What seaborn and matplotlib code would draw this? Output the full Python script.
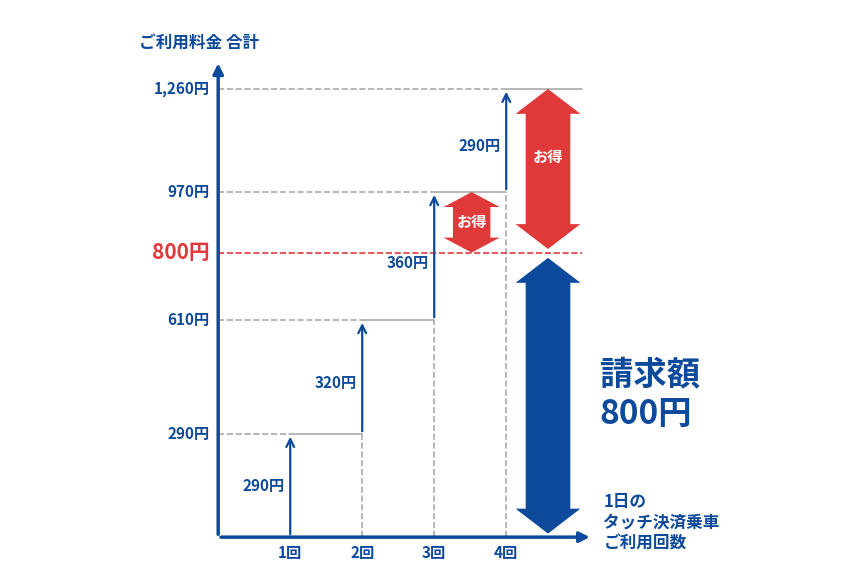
import matplotlib
matplotlib.use("Agg")
import matplotlib.pyplot as plt
import seaborn as sns
from matplotlib.patches import Polygon

sns.set_theme(style="white")
plt.rcParams['font.family'] = ['Noto Sans CJK JP', 'DejaVu Sans']

# data
rides = [1, 2, 3, 4]
ride_labels = ["1回", "2回", "3回", "4回"]
fares = [290, 320, 360, 290]
totals = [290, 610, 970, 1260]
cap = 800
tick_labels = ["290円", "610円", "970円", "1,260円"]

BLUE = "#0d4a9b"
RED = "#e0393a"
GRAY = "#aaaaaa"

fig = plt.figure(figsize=(8.67, 5.72), dpi=100)
ax = fig.add_axes([0, 0, 1, 1])
ax.set_xlim(-3.03, 9.01)
ax.set_ylim(-98, 1510)
ax.axis("off")

def double_arrow(x, y0, y1, w, hw, hl, color):
    pts = [(x - w/2, y0 + hl), (x - hw/2, y0 + hl), (x, y0), (x + hw/2, y0 + hl),
           (x + w/2, y0 + hl), (x + w/2, y1 - hl), (x + hw/2, y1 - hl), (x, y1),
           (x - hw/2, y1 - hl), (x - w/2, y1 - hl)]
    ax.add_patch(Polygon(pts, closed=True, color=color, lw=0))

# axes arrows
ax.annotate("", xy=(0, 1340), xytext=(0, 0),
            arrowprops=dict(arrowstyle="-|>", color=BLUE, lw=2.5, mutation_scale=15))
ax.annotate("", xy=(5.2, 0), xytext=(0, 0),
            arrowprops=dict(arrowstyle="-|>", color=BLUE, lw=2.5, mutation_scale=15))

prev = 0
for i, (x, t, f) in enumerate(zip(rides, totals, fares)):
    ax.plot([0, x], [t, t], ls="--", color=GRAY, lw=1.2, zorder=1)
    if prev > 0:
        ax.plot([x, x], [0, prev], ls="--", color=GRAY, lw=1.2, zorder=1)
    ax.annotate("", xy=(x, t), xytext=(x, prev),
                arrowprops=dict(arrowstyle="->", color=BLUE, lw=1.6, mutation_scale=14))
    end = rides[i + 1] if i + 1 < len(rides) else 5.05
    ax.plot([x, end], [t, t], color=GRAY, lw=1.2, zorder=1)
    ax.text(x - 0.08, prev + f * 0.45 if i else 145, f"{f}円", ha="right", va="center",
            color=BLUE, fontsize=11, fontweight="bold")
    ax.text(-0.12, t, tick_labels[i], ha="right", va="center", color=BLUE,
            fontsize=11, fontweight="bold")
    ax.text(x, -45, ride_labels[i], ha="center", va="center", color=BLUE,
            fontsize=11, fontweight="bold")
    prev = t

ax.plot([0, 5.05], [cap, cap], ls="--", color=RED, lw=1.2, zorder=1)
ax.text(-0.12, cap, f"{cap}円", ha="right", va="center", color=RED,
        fontsize=15, fontweight="bold")

# big arrows
double_arrow(4.58, cap + 10, totals[-1], 0.62, 0.9, 70, RED)
double_arrow(4.58, 10, cap - 15, 0.62, 0.9, 70, BLUE)
double_arrow(3.52, cap, totals[2], 0.52, 0.78, 42, RED)
ax.text(4.58, 1070, "お得", ha="center", va="center", color="white", fontsize=11, fontweight="bold")
ax.text(3.52, 885, "お得", ha="center", va="center", color="white", fontsize=11, fontweight="bold")

ax.text(5.3, 400, "請求額\n800円", ha="left", va="center", color=BLUE,
        fontsize=24, fontweight="bold", linespacing=1.25)
ax.text(-1.1, 1390, "ご利用料金 合計", ha="left", va="center", color=BLUE,
        fontsize=12, fontweight="bold")
ax.text(5.35, 125, "1日の\nタッチ決済乗車\nご利用回数", ha="left", va="top", color=BLUE,
        fontsize=12, fontweight="bold", linespacing=1.2)

fig.savefig("out.png", dpi=100, facecolor="white")
